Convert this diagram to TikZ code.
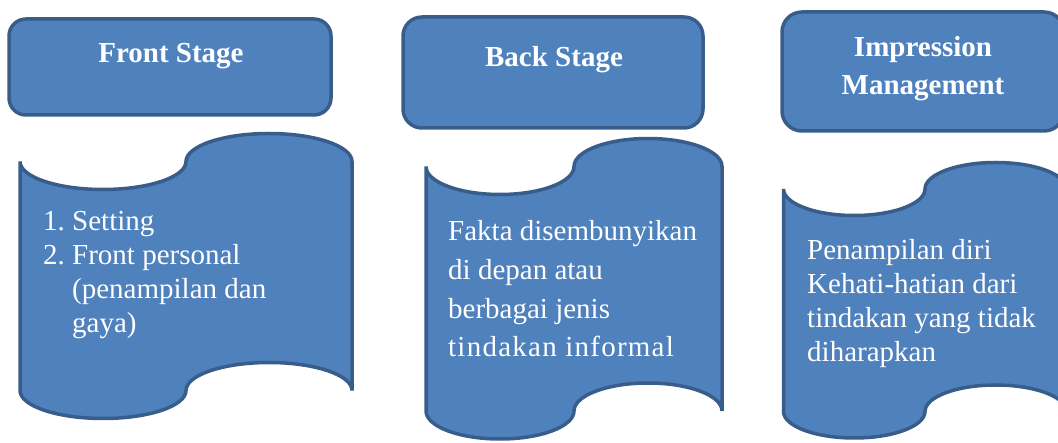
\documentclass[tikz,border=0pt]{standalone}
\usepackage{fontspec}
\setmainfont{Liberation Serif}
\definecolor{shapefill}{HTML}{4F81BD}
\definecolor{shapeline}{HTML}{385D8A}
\tikzset{
  x=1pt, y=1pt,
  outline/.style={draw=shapeline, fill=shapefill, line width=3.5pt},
  titlebox/.style={outline, rectangle, rounded corners=#1, inner sep=0pt},
  titletext/.style={text=white, font=\fontsize{29}{38}\selectfont\bfseries, align=center, inner sep=0pt},
  bodytext/.style={text=white, font=\fontsize{29}{34}\selectfont, align=left, inner sep=0pt},
}
% punched-tape outline: name, left, right, top wave axis, bottom wave axis, wave amplitude
\newcommand\tapeshape[6]{%
  \pgfmathsetmacro\tapeq{(#3-#2)/4}%
  \path[outline] (#2,-#4) coordinate (#1-nw)
    arc[start angle=180, end angle=360, x radius=\tapeq pt, y radius=#6 pt]
    arc[start angle=180, end angle=0,   x radius=\tapeq pt, y radius=#6 pt]
    -- (#3,-#5) coordinate (#1-se)
    arc[start angle=0, end angle=180,  x radius=\tapeq pt, y radius=#6 pt]
    arc[start angle=0, end angle=-180, x radius=\tapeq pt, y radius=#6 pt]
    -- cycle;
}
\begin{document}
\begin{tikzpicture}
\useasboundingbox (0,0) rectangle (1058,-443);

% heading boxes
\node[titlebox=17, minimum width=322, minimum height=96]  (front) at (170,-67)   {};
\node[titlebox=19, minimum width=300, minimum height=111] (back)  at (553,-72.5) {};
\node[titlebox=20, minimum width=282, minimum height=119] (impr)  at (923,-71.5) {};

% multi-line nodes are anchored on the baseline of their last line
\node[titletext, anchor=base] (frontlabel) at (171,-63) {Front Stage};
\node[titletext, anchor=base] (backlabel)  at (554,-67) {Back Stage};
\node[titletext, anchor=base] (imprlabel)  at (923,-95) {Impression\\Management};

% punched-tape panels
\tapeshape{tapeA}{20}{352}{161.5}{390.5}{28}
\tapeshape{tapeB}{426}{722}{166.5}{411}{28}
\tapeshape{tapeC}{783.5}{1066.5}{189}{411.5}{26.5}

\node[bodytext, anchor=base west] (frontbody) at (43,-333)
  {\makebox[29pt][l]{1.}Setting\\
   \makebox[29pt][l]{2.}Front personal\\
   \hspace*{29pt}(penampilan dan\\
   \hspace*{29pt}gaya)};
\node[bodytext, font=\fontsize{29}{38.7}\selectfont, anchor=base west] (backbody) at (448,-357)
  {Fakta disembunyikan\\di depan atau\\berbagai jenis\\{\addfontfeature{LetterSpace=4.3}tindakan informal}};
\node[bodytext, anchor=base west] (imprbody) at (807,-362)
  {Penampilan diri\\Kehati-hatian dari\\tindakan yang tidak\\diharapkan};
\end{tikzpicture}
\end{document}
